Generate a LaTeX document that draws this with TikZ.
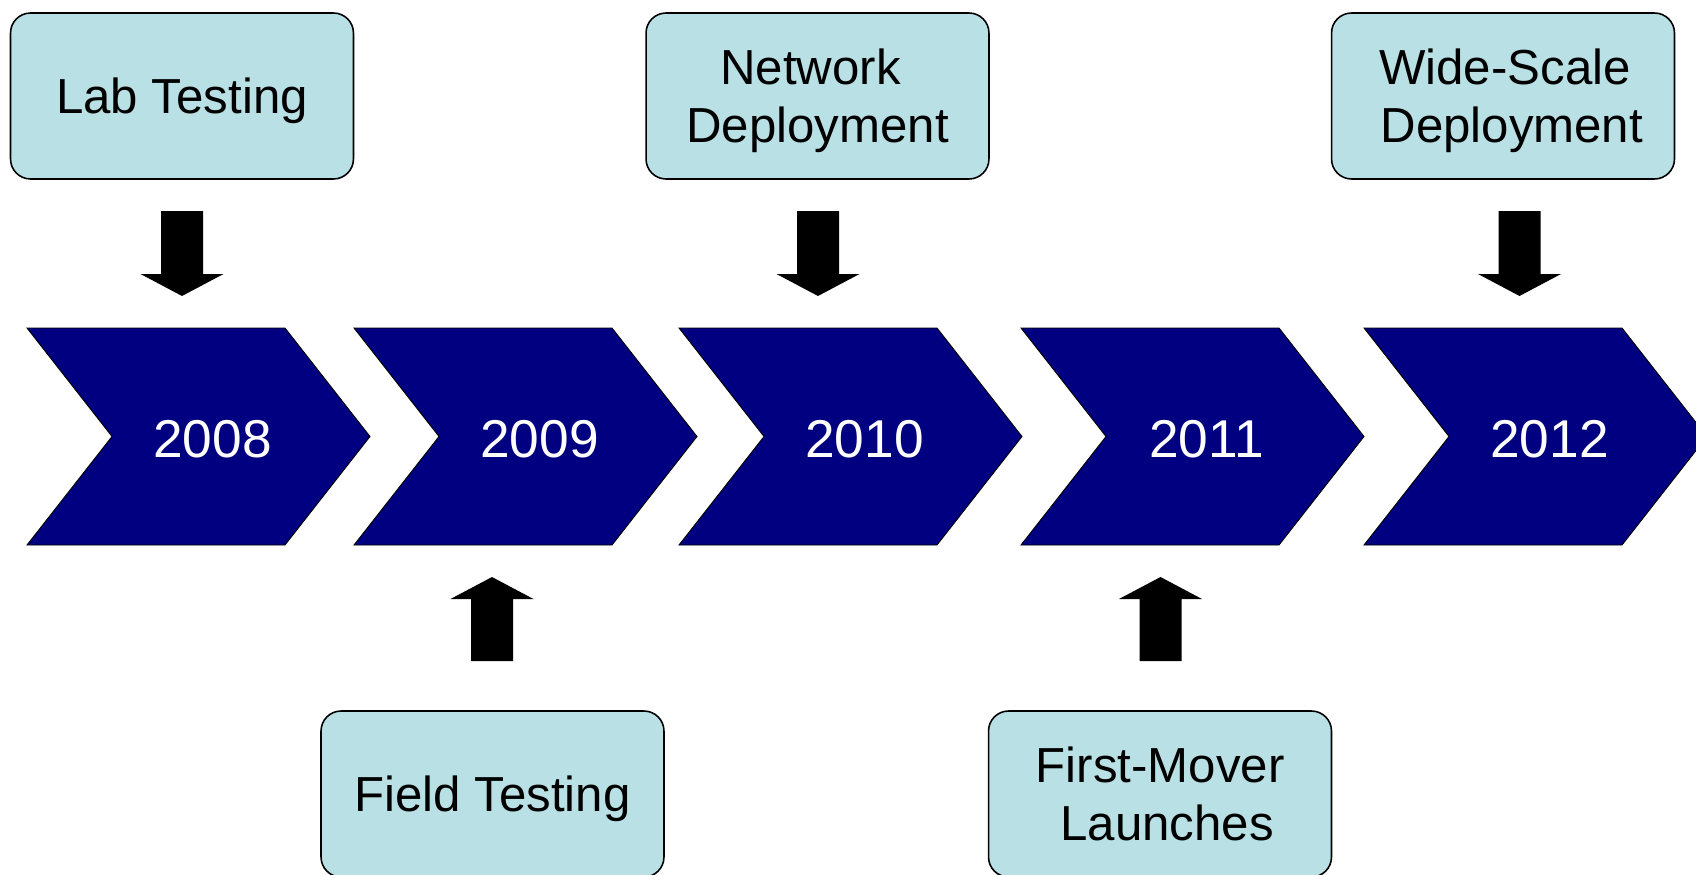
\documentclass[tikz,border=0pt]{standalone}
\usepackage{fontspec}
\setmainfont{Liberation Sans}
\definecolor{boxblue}{RGB}{185,224,228}
\definecolor{chevnavy}{RGB}{0,0,128}
\tikzset{
    milestone/.style={draw=black,line width=0.9pt,fill=boxblue,rounded corners=0.4cm,
        minimum width=6.86cm,minimum height=3.32cm,inner sep=0pt,align=center,
        text depth=0pt,font=\fontsize{28}{33}\selectfont},
    chevron/.style={draw=black,line width=0.5pt,fill=chevnavy},
    yearlabel/.style={text=white,font=\fontsize{30.3}{34}\selectfont},
    blockarrow/.style={fill=black}
}
\begin{document}
\begin{tikzpicture}[x=0.02cm,y=-0.02cm]
    \useasboundingbox (0,0) rectangle (1696,875);

    % the five years
    \foreach \lx/\yr in {27/2008,354/2009,679/2010,1021/2011,1364/2012}{
        \draw[chevron] (\lx,328) -- (\lx+258,328) -- (\lx+343,436.5)
            -- (\lx+258,545) -- (\lx,545) -- (\lx+85,436.5) -- cycle;
        \node[yearlabel] (y\yr) at (\lx+185.5,439) {\yr};
    }

    \begin{scope}[every node/.style={milestone}]
        \node (lab) at (182,96) {Lab Testing};
        \node (net) at (817.5,96) {Network\kern.28em\\Deployment};
        \node (wide) at (1503,96) {\kern10pt Wide-Scale\kern.28em\\\kern10pt Deployment};
        \node (field) at (492.5,794) {Field Testing};
        \node (first) at (1160,794) {\kern8pt First-Mover\kern.28em\\\kern8pt Launches};
    \end{scope}

    % block arrows down to the years
    \foreach \cx in {182,818,1519.5}
        \fill[blockarrow] (\cx-21,211) -- (\cx+21,211) -- (\cx+21,274) -- (\cx+41.5,274)
            -- (\cx,296) -- (\cx-41.5,274) -- (\cx-21,274) -- cycle;

    % block arrows up from below
    \foreach \cx in {492,1160.5}
        \fill[blockarrow] (\cx-21,661) -- (\cx+21,661) -- (\cx+21,599) -- (\cx+41.5,599)
            -- (\cx,577) -- (\cx-41.5,599) -- (\cx-21,599) -- cycle;
\end{tikzpicture}
\end{document}
